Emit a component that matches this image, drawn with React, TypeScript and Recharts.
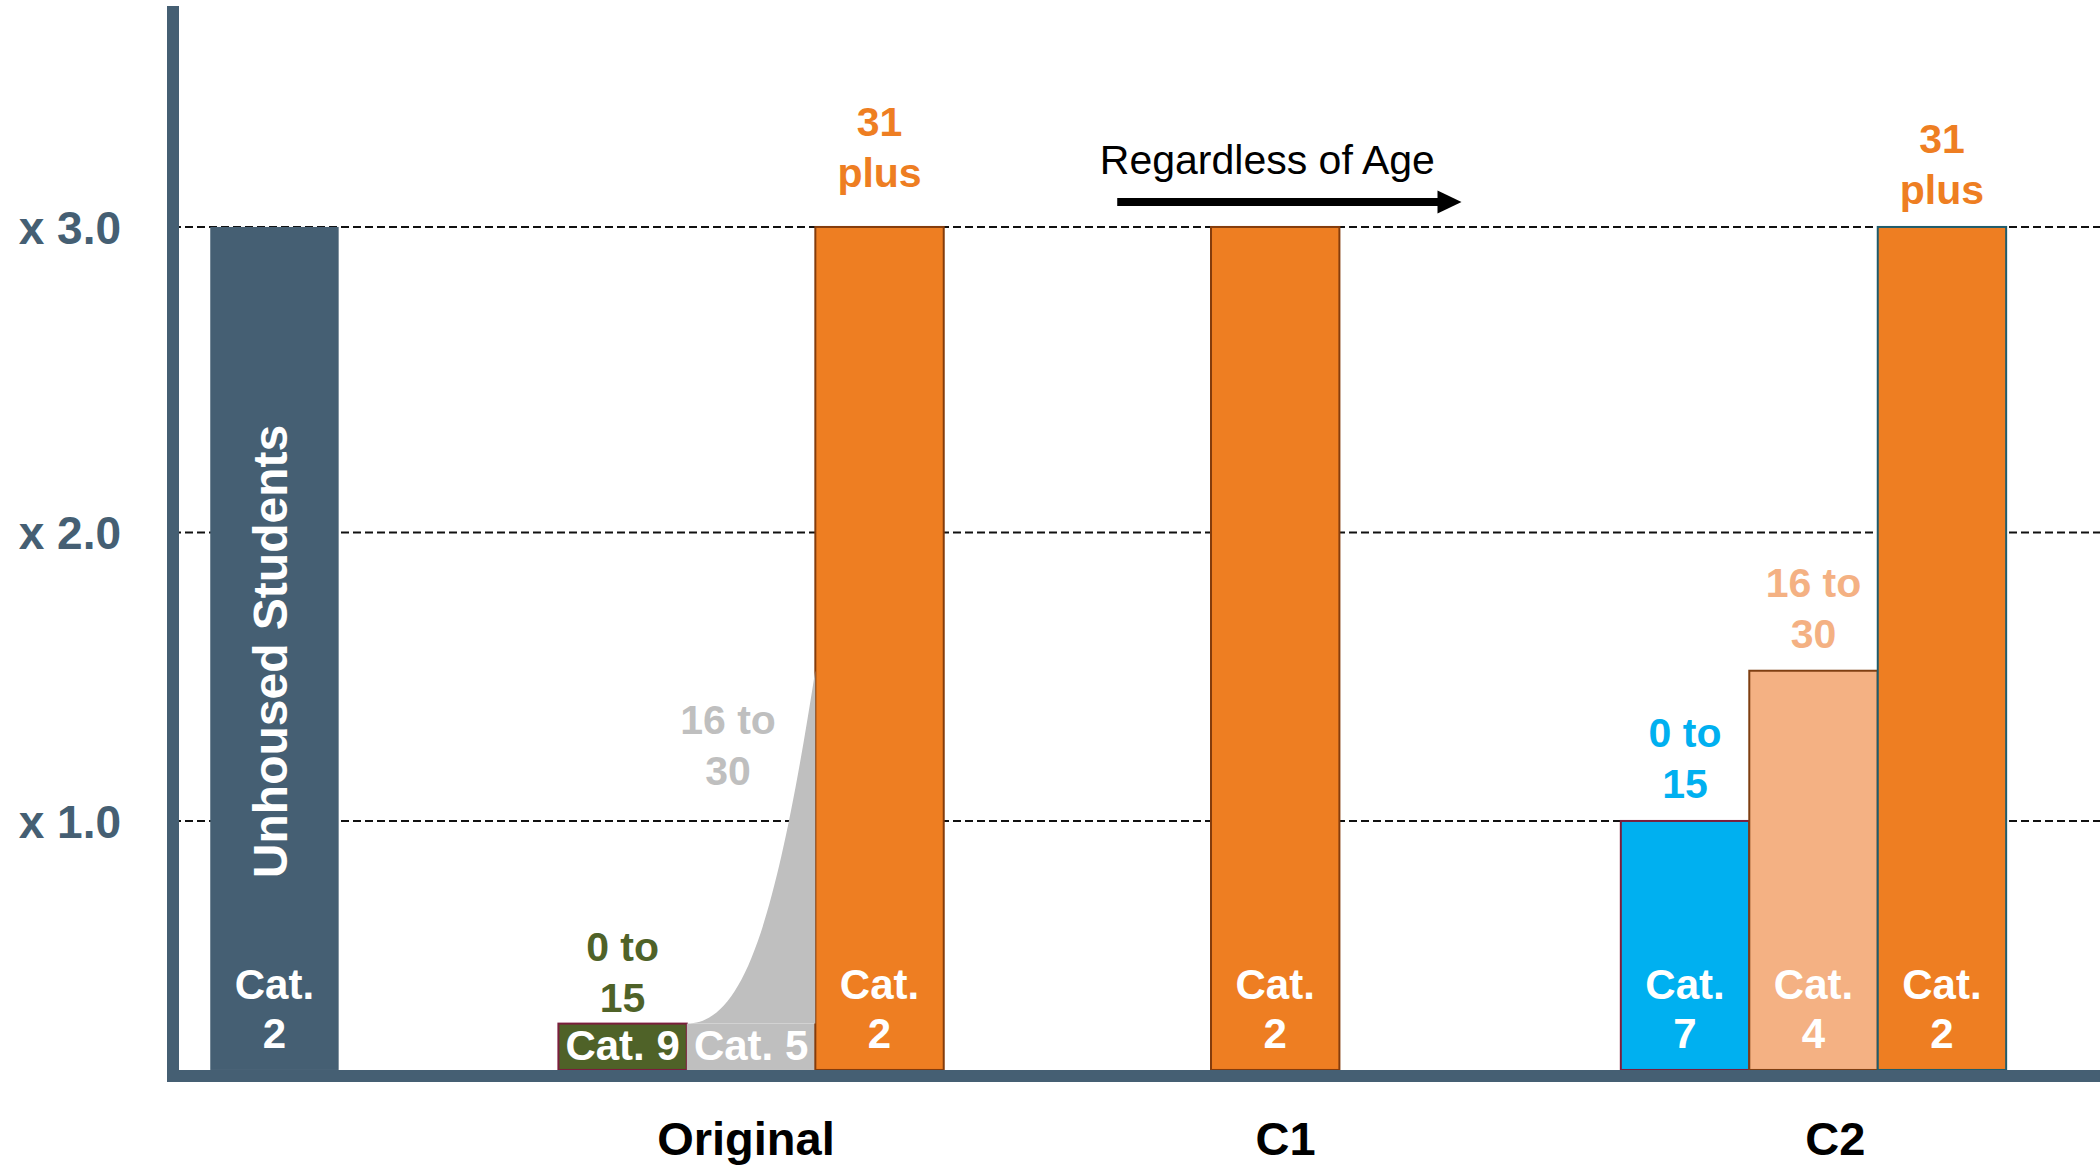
import React from 'react';
import { ComposedChart, Bar, XAxis, YAxis, CartesianGrid, ReferenceLine } from 'recharts';

// one entry per bar, left to right
const BAR_IDS = ['unhoused', 'orig-0-15', 'orig-16-30', 'orig-31-plus', 'c1', 'c2-0-15', 'c2-16-30', 'c2-31-plus'];
const BAR_X = [0.79, 3.5, 4.5, 5.5, 8.58, 11.77, 12.77, 13.77];
const MULTIPLIER = [3.0, 0.22, 1.53, 3.0, 3.0, 1.0, 1.53, 3.0];
// the 16-30 bar of the original rule ramps up from the 0-15 level
const RAMP_FROM = [null, null, 0.22, null, null, null, null, null];
const CAT_LABELS = ['Cat.\n2', 'Cat. 9', 'Cat. 5', 'Cat.\n2', 'Cat.\n2', 'Cat.\n7', 'Cat.\n4', 'Cat.\n2'];
const AGE_LABELS = ['', '0 to\n15', '16 to\n30', '31\nplus', '', '0 to\n15', '16 to\n30', '31\nplus'];
const SIDE_LABELS = ['Unhoused Students', '', '', '', '', '', '', ''];

const GROUP_TICKS = [4.46, 8.66, 12.94];
const GROUP_LABELS = ['Original', 'C1', 'C2'];
const Y_TICKS = [1, 2, 3];
const Y_TICK_LABELS = ['x 1.0', 'x 2.0', 'x 3.0'];

const ANNOTATION = { text: 'Regardless of Age', from: 7.35, to: 10.03, at: 3.08 };

const SLATE = '#455F73';
const ORANGE = '#EE7E22';
const PEACH = '#F4B183';
const BLUE = '#00B0F0';
const GREEN = '#4F6228';
const GREY = '#BFBFBF';

const FILLS = [SLATE, GREEN, GREY, ORANGE, ORANGE, BLUE, PEACH, ORANGE];
const STROKES = ['none', '#7B1E3C', 'none', '#843C0C', '#843C0C', '#7B1E3C', '#7F3F12', '#1F5C6C'];
const AGE_COLORS = ['', GREEN, GREY, ORANGE, '', BLUE, PEACH, ORANGE];
// small label nudges (px) where the source placed a label off the default spot
const AGE_NUDGE: Record<number, { dx: number; dy: number }> = {
  1: { dx: 0, dy: 11 },
  2: { dx: -23, dy: 137 },
  3: { dx: 0, dy: -17 },
};

const FONT = "'Liberation Sans', Arial, sans-serif";

const rows = BAR_IDS.map((id, i) => ({
  id,
  idx: i,
  x: BAR_X[i],
  base: RAMP_FROM[i] ?? MULTIPLIER[i],
  rise: RAMP_FROM[i] != null ? MULTIPLIER[i] - (RAMP_FROM[i] as number) : 0,
}));

// the multiplier axis of the source is slightly stretched towards the top
function makePowScale(exponent: number): any {
  const f = (v: number) => Math.sign(v) * Math.pow(Math.abs(v), exponent);
  const finv = (v: number) => Math.sign(v) * Math.pow(Math.abs(v), 1 / exponent);
  let dom = [0, 1];
  let rng = [0, 1];
  const scale: any = (v: number) => {
    const a = f(dom[0]);
    const b = f(dom[1]);
    return rng[0] + ((f(Number(v)) - a) / (b - a)) * (rng[1] - rng[0]);
  };
  scale.domain = (d?: any[]) => {
    if (d === undefined) return dom.slice();
    dom = [Number(d[0]), Number(d[d.length - 1])];
    return scale;
  };
  scale.range = (r?: any[]) => {
    if (r === undefined) return rng.slice();
    rng = [Number(r[0]), Number(r[r.length - 1])];
    return scale;
  };
  scale.invert = (p: number) => {
    const a = f(dom[0]);
    const b = f(dom[1]);
    return finv(a + ((p - rng[0]) / (rng[1] - rng[0])) * (b - a));
  };
  scale.ticks = () => Y_TICKS.slice();
  scale.tickFormat = () => (v: number) => String(v);
  scale.copy = () => makePowScale(exponent).domain(dom).range(rng);
  return scale;
}

const yScale = makePowScale(1.11);

function BaseShape(props: any) {
  const { x, y, width, height, payload } = props;
  const i = payload.idx;
  const bottom = y + height;
  const cx = x + width / 2;
  const lines = CAT_LABELS[i].split('\n');
  const firstDy = lines.length > 1 ? -71 : -10;
  return (
    <g>
      <rect
        x={x}
        y={y}
        width={width}
        height={height}
        fill={FILLS[i]}
        stroke={STROKES[i]}
        strokeWidth={STROKES[i] === 'none' ? 0 : 2}
      />
      {SIDE_LABELS[i] && (
        <text
          x={cx - 4.5}
          y={(y + bottom) / 2 + 3}
          dy="0.35em"
          textAnchor="middle"
          transform={`rotate(-90 ${cx - 4.5} ${(y + bottom) / 2 + 3})`}
          fontFamily={FONT}
          fontWeight={700}
          fontSize={48}
          fill="#fff"
        >
          {SIDE_LABELS[i]}
        </text>
      )}
      {lines.map((line, k) => (
        <text
          key={k}
          x={cx}
          y={bottom + firstDy + k * 49}
          textAnchor="middle"
          fontFamily={FONT}
          fontWeight={700}
          fontSize={42}
          fill="#fff"
        >
          {line}
        </text>
      ))}
    </g>
  );
}

function RiseShape(props: any) {
  const { x, y, width, height, payload } = props;
  const i = payload.idx;
  const bottom = y + height;
  const nudge = AGE_NUDGE[i] ?? { dx: 0, dy: 0 };
  const lines = AGE_LABELS[i] ? AGE_LABELS[i].split('\n') : [];
  const path =
    height > 0
      ? `M${x},${bottom} C${x + 0.45 * width},${bottom} ${x + 0.7 * width},${y + 0.7 * height} ${x + width},${y} L${x + width},${bottom} Z`
      : null;
  return (
    <g>
      {path && <path d={path} fill={FILLS[i]} stroke="none" />}
      {lines.map((line, k) => (
        <text
          key={k}
          x={x + width / 2 + nudge.dx}
          y={y - 74 + nudge.dy + k * 51}
          textAnchor="middle"
          fontFamily={FONT}
          fontWeight={700}
          fontSize={41}
          fill={AGE_COLORS[i]}
        >
          {line}
        </text>
      ))}
    </g>
  );
}

function ArrowShape(props: any) {
  const { x1, y1, x2 } = props;
  const head = 24;
  return (
    <g>
      <text
        x={(x1 + x2) / 2 - 22}
        y={y1 - 28}
        textAnchor="middle"
        fontFamily={FONT}
        fontSize={41}
        fill="#000"
      >
        {ANNOTATION.text}
      </text>
      <line x1={x1} y1={y1} x2={x2 - head + 2} y2={y1} stroke="#000" strokeWidth={8} />
      <polygon points={`${x2 - head},${y1 - 11.5} ${x2},${y1} ${x2 - head},${y1 + 11.5}`} fill="#000" />
    </g>
  );
}

function GroupTick(props: any) {
  const { x, y, payload } = props;
  const i = GROUP_TICKS.indexOf(payload.value);
  return (
    <text x={x} y={y + 33} textAnchor="middle" fontFamily={FONT} fontWeight={700} fontSize={47} fill="#000">
      {GROUP_LABELS[i]}
    </text>
  );
}

function MultTick(props: any) {
  const { x, y, payload } = props;
  const i = Y_TICKS.indexOf(payload.value);
  if (i < 0) return null;
  return (
    <text x={x} y={y} dy="0.36em" textAnchor="end" fontFamily={FONT} fontWeight={700} fontSize={46} fill={SLATE}>
      {Y_TICK_LABELS[i]}
    </text>
  );
}

export default function App() {
  return (
    <div style={{ position: 'absolute', left: 0, top: 0, width: 2100, height: 1169, background: '#fff' }}>
      <ComposedChart width={2100} height={1169} data={rows} margin={{ top: 6, right: 0, bottom: 0, left: 0 }}>
        <CartesianGrid
          horizontal
          vertical={false}
          horizontalValues={Y_TICKS}
          stroke="#111"
          strokeWidth={2}
          strokeDasharray="8 4"
        />
        <XAxis
          type="number"
          dataKey="x"
          domain={[0, 15]}
          allowDataOverflow
          ticks={GROUP_TICKS}
          interval={0}
          height={93}
          axisLine={{ stroke: SLATE, strokeWidth: 12, strokeLinecap: 'square' }}
          tickLine={false}
          tickSize={0}
          tickMargin={46}
          tick={<GroupTick />}
        />
        <YAxis
          type="number"
          domain={[-0.035, 3.7]}
          allowDataOverflow
          scale={yScale}
          ticks={Y_TICKS}
          interval={0}
          width={173}
          axisLine={{ stroke: SLATE, strokeWidth: 12 }}
          tickLine={false}
          tickSize={0}
          tickMargin={52}
          tick={<MultTick />}
        />
        <Bar dataKey="base" stackId="s" barSize={128.4} isAnimationActive={false} shape={BaseShape} />
        <Bar dataKey="rise" stackId="s" barSize={128.4} isAnimationActive={false} shape={RiseShape} />
        <ReferenceLine
          segment={[
            { x: ANNOTATION.from, y: ANNOTATION.at },
            { x: ANNOTATION.to, y: ANNOTATION.at },
          ]}
          shape={ArrowShape}
        />
      </ComposedChart>
    </div>
  );
}
